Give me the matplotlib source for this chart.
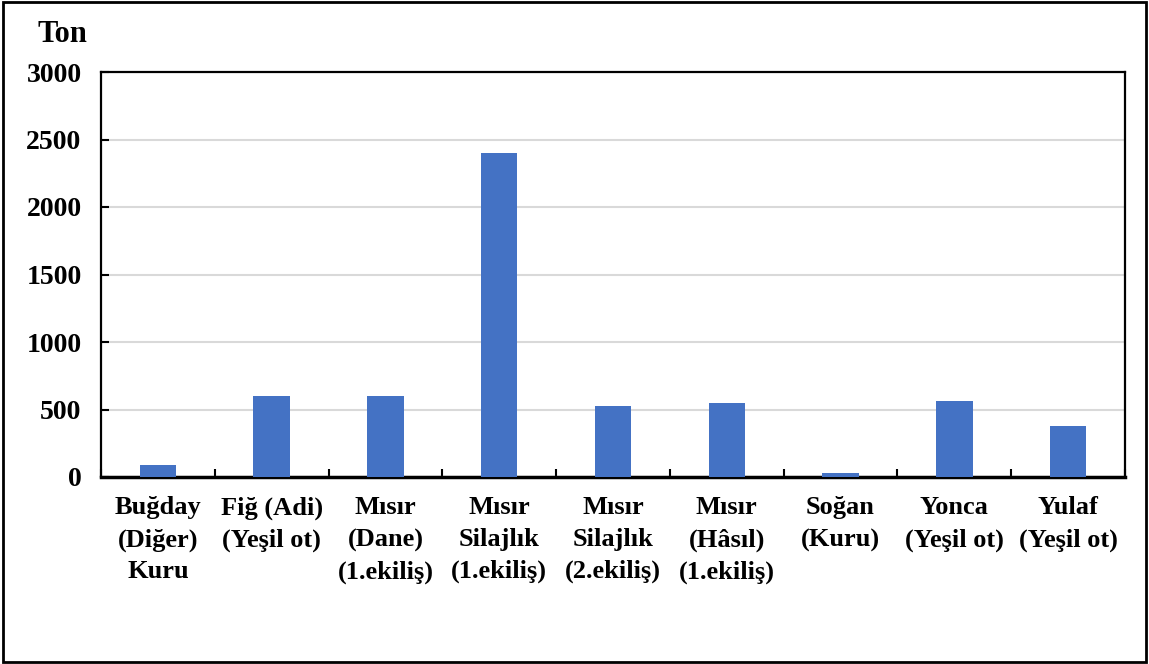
import matplotlib.pyplot as plt
import matplotlib.patches as patches
import numpy as np

# ürün bazında üretim miktarları (ton)
urunler = ['Buğday\n(Diğer)\nKuru', 'Fiğ (Adi)\n(Yeşil ot)', 'Mısır\n(Dane)\n(1.ekiliş)',
           'Mısır\nSilajlık\n(1.ekiliş)', 'Mısır\nSilajlık\n(2.ekiliş)', 'Mısır\n(Hâsıl)\n(1.ekiliş)',
           'Soğan\n(Kuru)', 'Yonca\n(Yeşil ot)', 'Yulaf\n(Yeşil ot)']
miktar = [90, 600, 600, 2400, 525, 550, 30, 560, 375]
y_ticks = [0, 500, 1000, 1500, 2000, 2500, 3000]

plt.rcParams['font.family'] = ['Liberation Serif', 'DejaVu Serif']
plt.rcParams['font.weight'] = 'bold'

fig = plt.figure(figsize=(11.49, 6.64), dpi=100)
ax = fig.add_axes([101/1149, 1 - 477/664, (1125-101)/1149, (477-72)/664])

x = np.arange(len(urunler))
ax.bar(x, miktar, width=0.32, color='#4472C4', zorder=3)

ax.set_xlim(-0.5, len(urunler) - 0.5)
ax.set_ylim(0, 3000)
ax.set_yticks(y_ticks)
ax.set_yticklabels([str(v) for v in y_ticks], fontsize=20, fontweight='bold')
ax.yaxis.grid(True, color='#d9d9d9', linewidth=1.5, zorder=0)

# kategori sınırlarında küçük işaretler
ax.set_xticks(np.arange(len(urunler) + 1) - 0.5)
ax.set_xticklabels([])
ax.set_xticks(x, minor=True)
ax.set_xticklabels(urunler, minor=True, fontsize=19, fontweight='bold', linespacing=1.48)
ax.tick_params(axis='x', which='minor', length=0, pad=14)
ax.tick_params(axis='x', which='major', direction='in', length=6, width=1.5)
ax.tick_params(axis='y', direction='in', length=6, width=1.5, pad=14)

for s in ['top', 'right', 'left']:
    ax.spines[s].set_linewidth(1.6)
ax.spines['bottom'].set_linewidth(2.5)

fig.text(38/1149, 1 - 35/664, 'Ton', fontsize=22, fontweight='bold', va='center', ha='left')

# grafik çerçevesi
fig.patches.append(patches.Rectangle((3/1149, 2/664), 1143/1149, 660/664, transform=fig.transFigure,
                                     fill=False, edgecolor='black', linewidth=2))

plt.savefig('out.png', dpi=100)
